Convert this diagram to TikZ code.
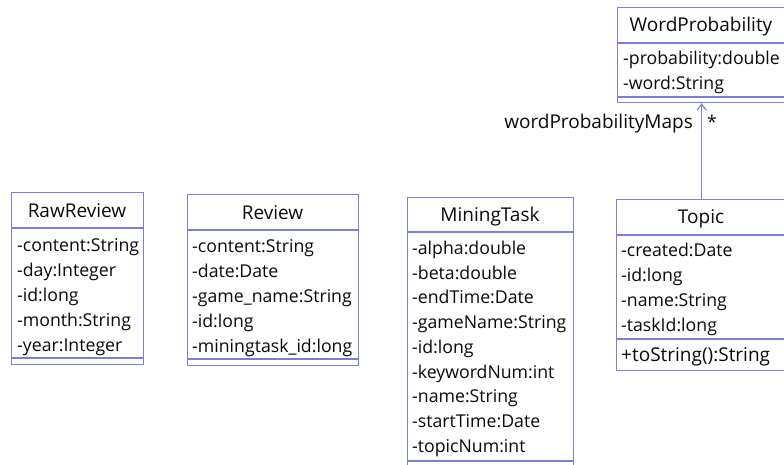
\documentclass[tikz,border=0pt]{standalone}
\usepackage{fontspec}
\setmainfont{Open Sans}
\usepackage{tikz}
\usetikzlibrary{arrows.meta}
\definecolor{umlblue}{RGB}{125,125,220}
\definecolor{umltext}{RGB}{10,10,10}

\tikzset{
  classbox/.style={draw=umlblue, line width=1.2pt, anchor=north west, inner sep=0pt},
  classname/.style={anchor=base, inner sep=0pt, text=umltext, font=\fontsize{19}{22}\selectfont},
  member/.style={anchor=base west, inner sep=0pt, text=umltext, font=\fontsize{17.7}{21}\selectfont},
  divider/.style={draw=umlblue, line width=1.2pt},
}

\begin{document}
\begin{tikzpicture}[x=1pt, y=-1pt]
  \useasboundingbox (0,0) rectangle (784,464);
  \clip (0,0) rectangle (784,464);

  % RawReview
  \node[classbox, minimum width=132pt, minimum height=172pt] (rawreview) at (11,192) {};
  \node[classname] (rawreviewname) at (77,217) {RawReview};
  \draw[divider] (11,228) -- (143,228);
  \draw[divider] (11,358) -- (143,358);
  \node[member] (rr1) at (17,251) {-content:String};
  \node[member] (rr2) at (17,276) {-day:Integer};
  \node[member] (rr3) at (17,301) {-id:long};
  \node[member] (rr4) at (17,326) {-month:String};
  \node[member] (rr5) at (17,351) {-year:Integer};

  % Review
  \node[classbox, minimum width=171pt, minimum height=171pt] (review) at (187,194) {};
  \node[classname] (reviewname) at (272.5,219) {Review};
  \draw[divider] (187,230) -- (358,230);
  \draw[divider] (187,359) -- (358,359);
  \node[member] (rv1) at (192,252) {-content:String};
  \node[member] (rv2) at (192,277) {-date:Date};
  \node[member] (rv3) at (192,302) {-game\_name:String};
  \node[member] (rv4) at (192,327) {-id:long};
  \node[member] (rv5) at (192,352) {-miningtask\_id:long};

  % MiningTask
  \node[classbox, minimum width=166pt, minimum height=290pt] (miningtask) at (407,197) {};
  \node[classname] (miningtaskname) at (490,221) {MiningTask};
  \draw[divider] (407,232) -- (573,232);
  \draw[divider] (407,461) -- (573,461);
  \node[member] (mt1) at (412,254) {-alpha:double};
  \node[member] (mt2) at (412,279) {-beta:double};
  \node[member] (mt3) at (412,303) {-endTime:Date};
  \node[member] (mt4) at (412,328) {-gameName:String};
  \node[member] (mt5) at (412,353) {-id:long};
  \node[member] (mt6) at (412,378) {-keywordNum:int};
  \node[member] (mt7) at (412,402) {-name:String};
  \node[member] (mt8) at (412,427) {-startTime:Date};
  \node[member] (mt9) at (412,452) {-topicNum:int};

  % Topic
  \node[classbox, minimum width=170pt, minimum height=171pt] (topic) at (616,199) {};
  \node[classname] (topicname) at (701,223) {Topic};
  \draw[divider] (616,235) -- (786,235);
  \draw[divider] (616,339) -- (786,339);
  \node[member] (tp1) at (621,256) {-created:Date};
  \node[member] (tp2) at (621,281) {-id:long};
  \node[member] (tp3) at (621,306) {-name:String};
  \node[member] (tp4) at (621,331) {-taskId:long};
  \node[member, font=\fontsize{19}{22}\selectfont] (tp5) at (621,361) {+toString():String};

  % WordProbability
  \node[classbox, minimum width=168pt, minimum height=95pt] (wordprob) at (617,7) {};
  \node[classname] (wordprobname) at (701,31) {WordProbability};
  \draw[divider] (617,43) -- (785,43);
  \draw[divider] (617,97) -- (785,97);
  \node[member] (wp1) at (623,64) {-probability:double};
  \node[member] (wp2) at (623,89) {-word:String};

  % association
  \draw[umlblue, line width=1.2pt, -{Straight Barb[length=6pt,width=9pt]}] (topic.north) -- (wordprob.south);
  \node[classname, anchor=base east] (maplabel) at (693,128) {wordProbabilityMaps};
  \node[member] (mapmult) at (707,128) {*};
\end{tikzpicture}
\end{document}
